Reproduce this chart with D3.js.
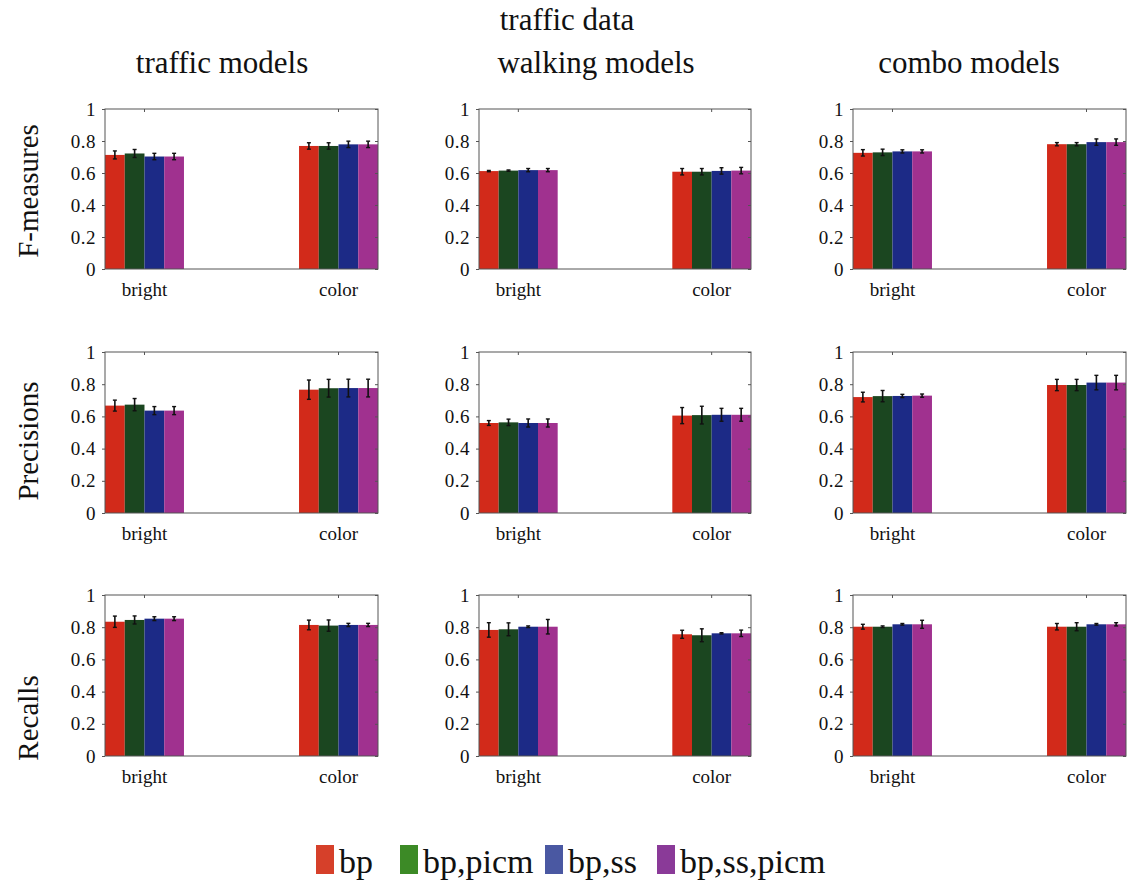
<!DOCTYPE html>
<html>
<head>
<meta charset="utf-8">
<script src="https://cdn.jsdelivr.net/npm/d3@7"></script>
<style>
  body { margin: 0; background: #fff; }
  svg { display: block; }
  text { font-family: "Liberation Serif", "DejaVu Serif", serif; fill: #111; }
</style>
</head>
<body>
<svg id="chart" width="1127" height="883"></svg>
<script>
// Categories and series
const categories = ["bright", "color"];
const series = ["bp", "bp,picm", "bp,ss", "bp,ss,picm"];
const modelTitles = ["traffic models", "walking models", "combo models"];
const metricTitles = ["F-measures", "Precisions", "Recalls"];
const yTicks = [0, 0.2, 0.4, 0.6, 0.8, 1];
const yTickLabels = ["0", "0.2", "0.4", "0.6", "0.8", "1"];

// Mean values: [metric][model][category][series]
const fMeasureMeans = [
  [[0.713, 0.722, 0.703, 0.703], [0.769, 0.769, 0.779, 0.779]],
  [[0.612, 0.615, 0.618, 0.618], [0.608, 0.608, 0.613, 0.615]],
  [[0.726, 0.729, 0.735, 0.735], [0.780, 0.780, 0.793, 0.793]]
];
const fMeasureErrors = [
  [[0.025, 0.025, 0.02, 0.02], [0.02, 0.02, 0.02, 0.02]],
  [[0.004, 0.004, 0.01, 0.01], [0.02, 0.02, 0.02, 0.02]],
  [[0.02, 0.02, 0.01, 0.01], [0.01, 0.01, 0.02, 0.02]]
];
const precisionMeans = [
  [[0.667, 0.673, 0.636, 0.636], [0.766, 0.775, 0.776, 0.776]],
  [[0.559, 0.563, 0.559, 0.559], [0.605, 0.608, 0.610, 0.610]],
  [[0.720, 0.726, 0.727, 0.729], [0.795, 0.795, 0.810, 0.810]]
];
const precisionErrors = [
  [[0.034, 0.038, 0.025, 0.025], [0.06, 0.055, 0.055, 0.055]],
  [[0.015, 0.02, 0.025, 0.025], [0.05, 0.055, 0.04, 0.04]],
  [[0.03, 0.035, 0.01, 0.01], [0.035, 0.035, 0.045, 0.045]]
];
const recallMeans = [
  [[0.834, 0.845, 0.853, 0.853], [0.814, 0.810, 0.814, 0.814]],
  [[0.783, 0.787, 0.803, 0.803], [0.756, 0.750, 0.762, 0.762]],
  [[0.803, 0.803, 0.818, 0.818], [0.803, 0.803, 0.818, 0.818]]
];
const recallErrors = [
  [[0.035, 0.025, 0.012, 0.012], [0.03, 0.035, 0.01, 0.01]],
  [[0.045, 0.04, 0.005, 0.045], [0.025, 0.04, 0.004, 0.02]],
  [[0.015, 0.005, 0.005, 0.025], [0.02, 0.025, 0.005, 0.01]]
];
const allMeans = [fMeasureMeans, precisionMeans, recallMeans];
const allErrors = [fMeasureErrors, precisionErrors, recallErrors];

const barColors = ["#d22a1a", "#1b4620", "#1c2a86", "#a0318f"];
const legendColors = ["#d6402a", "#3c8a26", "#4a58a2", "#8a3a98"];

// Panel layout
const colX = [[105, 378], [479, 751], [853, 1126]];
const rowY = [[109, 269], [352, 513], [595, 756]];
const rowLabelY = [191, 441, 718];
const titleX = [222, 596, 969];

const serif = "Liberation Serif, DejaVu Serif, serif";
const svg = d3.select("#chart");

svg.append("text").attr("x", 567).attr("y", 30)
  .attr("text-anchor", "middle").style("font-size", "31px").text("traffic data");

modelTitles.forEach((t, c) => {
  svg.append("text")
    .attr("x", titleX[c]).attr("y", 73).attr("text-anchor", "middle")
    .style("font-size", "31px").text(t);
});

metricTitles.forEach((t, r) => {
  svg.append("text")
    .attr("transform", `translate(38,${rowLabelY[r]}) rotate(-90)`)
    .attr("text-anchor", "middle").style("font-size", "29px").text(t);
});

for (let r = 0; r < 3; r++) {
  for (let c = 0; c < 3; c++) {
    const [x0, x1] = colX[c];
    const [yTop, yBot] = rowY[r];
    const g = svg.append("g");

    const y = d3.scaleLinear().domain([0, 1]).range([yBot, yTop]);
    const x = d3.scaleBand().domain(categories).range([x0, x1])
      .paddingInner(0.593).paddingOuter(0);
    const xs = d3.scaleBand().domain(series).range([0, x.bandwidth()]).padding(0);

    const means = allMeans[r][c];
    const errs = allErrors[r][c];

    // bars with error bars
    categories.forEach((cat, ci) => {
      series.forEach((s, si) => {
        const v = means[ci][si];
        const e = errs[ci][si];
        const bx = x(cat) + xs(s);
        g.append("rect")
          .attr("x", bx).attr("y", y(v))
          .attr("width", xs.bandwidth()).attr("height", y(0) - y(v))
          .attr("fill", barColors[si]);
        const cx = bx + xs.bandwidth() / 2;
        g.append("line").attr("x1", cx).attr("x2", cx)
          .attr("y1", y(v - e)).attr("y2", y(v + e))
          .attr("stroke", "#111").attr("stroke-width", 1.6);
        [v - e, v + e].forEach(ev => {
          g.append("line").attr("x1", cx - 2).attr("x2", cx + 2)
            .attr("y1", y(ev)).attr("y2", y(ev))
            .attr("stroke", "#111").attr("stroke-width", 1.4);
        });
      });
    });

    // left axis
    const yAxis = d3.axisLeft(y).tickValues(yTicks)
      .tickFormat((d, i) => yTickLabels[i]).tickSizeInner(3).tickSizeOuter(0).tickPadding(6);
    const ya = g.append("g").attr("transform", `translate(${x0},0)`).call(yAxis)
      .attr("font-family", serif).attr("font-size", 19);
    ya.select(".domain").remove();
    ya.selectAll("line").attr("stroke", "#555");
    ya.selectAll("text").attr("fill", "#111").attr("letter-spacing", 0.5);

    // right inner ticks
    const yr = g.append("g").attr("transform", `translate(${x1},0)`)
      .call(d3.axisRight(y).tickValues(yTicks).tickSize(-3).tickFormat(""));
    yr.select(".domain").remove();
    yr.selectAll("line").attr("stroke", "#555");

    // bottom category labels
    const xAxis = d3.axisBottom(x).tickSize(0).tickPadding(14);
    const xa = g.append("g").attr("transform", `translate(0,${yBot})`).call(xAxis)
      .attr("font-family", serif).attr("font-size", 19);
    xa.select(".domain").remove();
    xa.selectAll("text").attr("fill", "#111");

    // top inner ticks
    const xt = g.append("g").attr("transform", `translate(0,${yTop})`)
      .call(d3.axisTop(x).tickSize(-3).tickFormat(""));
    xt.select(".domain").remove();
    xt.selectAll("line").attr("stroke", "#555");

    // frame
    g.append("rect").attr("x", x0).attr("y", yTop)
      .attr("width", x1 - x0).attr("height", yBot - yTop)
      .attr("fill", "none").attr("stroke", "#555").attr("stroke-width", 1);
  }
}

// legend
const legendX = [316, 400, 545, 657];
series.forEach((s, i) => {
  svg.append("rect").attr("x", legendX[i]).attr("y", 845)
    .attr("width", 18).attr("height", 29).attr("fill", legendColors[i]);
  svg.append("text").attr("x", legendX[i] + 23).attr("y", 873)
    .style("font-size", "34px").text(s);
});
</script>
</body>
</html>
